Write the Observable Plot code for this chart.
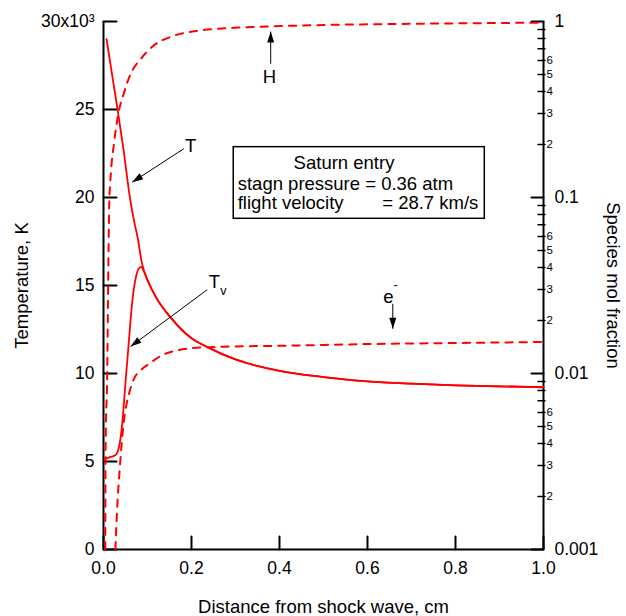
<!DOCTYPE html>
<html><head><meta charset="utf-8">
<script src="https://cdn.jsdelivr.net/npm/d3@7"></script>
<script src="https://cdn.jsdelivr.net/npm/@observablehq/plot@0.6"></script>
<style>
html,body{margin:0;padding:0;background:#fff;}
#chart svg{display:block;}
</style>
</head><body><div id="chart"></div>
<script>
// Translational temperature T (10^3 K) vs distance (cm)
const distT = [0.007, 0.02, 0.032, 0.045, 0.06, 0.07, 0.077, 0.088, 0.1, 0.12, 0.152, 0.2, 0.236, 0.3, 0.4, 0.5, 0.6, 0.7, 0.8, 0.9, 1.0];
const tempT = [29.0, 26.9, 25.0, 22.8, 20.0, 18.6, 17.8, 16.2, 15.3, 14.3, 13.2, 12.0, 11.5, 10.8, 10.15, 9.8, 9.55, 9.42, 9.33, 9.27, 9.22];
// Vibrational temperature Tv
const distTv = [0.004, 0.015, 0.027, 0.035, 0.0424, 0.05, 0.0576, 0.065, 0.073, 0.08, 0.086, 0.092, 0.1, 0.12, 0.152, 0.2, 0.236, 0.3, 0.4, 0.5, 0.6, 0.7, 0.8, 0.9, 1.0];
const tempTv = [5.15, 5.25, 5.35, 5.8, 7.1, 9.5, 11.8, 14.0, 15.4, 15.95, 16.05, 15.8, 15.3, 14.3, 13.2, 12.0, 11.5, 10.8, 10.15, 9.8, 9.55, 9.42, 9.33, 9.27, 9.22];
// H mole fraction
const distH = [0.004, 0.0048, 0.0084, 0.011, 0.013, 0.017, 0.0235, 0.035, 0.046, 0.061, 0.084, 0.114, 0.16, 0.22, 0.296, 0.372, 0.5, 0.7, 1.0];
const fracH = [0.001, 0.004, 0.0099, 0.04, 0.09, 0.14, 0.2, 0.31, 0.39, 0.5, 0.61, 0.73, 0.83, 0.89, 0.92, 0.936, 0.955, 0.97, 0.985];
// electron mole fraction
const distE = [0.027, 0.031, 0.037, 0.046, 0.0576, 0.069, 0.084, 0.107, 0.13, 0.16, 0.198, 0.273, 0.425, 0.6, 0.8, 1.0];
const fracE = [0.001, 0.0017, 0.0029, 0.0053, 0.0076, 0.0093, 0.0104, 0.0115, 0.0126, 0.0134, 0.0139, 0.0142, 0.0144, 0.0147, 0.0149, 0.0151];

const xTicks = [0, 0.2, 0.4, 0.6, 0.8, 1.0];
const xTickLabels = ["0.0", "0.2", "0.4", "0.6", "0.8", "1.0"];
const yTicks = [0, 5, 10, 15, 20, 25, 30];
const yTickLabels = ["0", "5", "10", "15", "20", "25", "30x10³"];
const fracMajor = [0.001, 0.01, 0.1, 1];
const fracMajorLabels = ["0.001", "0.01", "0.1", "1"];
const fracMinor = [0.002,0.003,0.004,0.005,0.006,0.007,0.008,0.009, 0.02,0.03,0.04,0.05,0.06,0.07,0.08,0.09, 0.2,0.3,0.4,0.5,0.6,0.7,0.8,0.9];
const fracMinorLabeled = [0.002,0.003,0.004,0.005,0.006, 0.02,0.03,0.04,0.05,0.06, 0.2,0.3,0.4,0.5,0.6];
const fracMinorLabels = ["2","3","4","5","6","2","3","4","5","6","2","3","4","5","6"];

// annotations (x in cm, y in 10^3 K units)
const arrows = [
  {x1: 0.38, y1: 27.6, x2: 0.38, y2: 29.43},
  {x1: 0.1825, y1: 22.77, x2: 0.0652, y2: 20.87},
  {x1: 0.2357, y1: 14.76, x2: 0.0614, y2: 11.53},
  {x1: 0.6575, y1: 13.96, x2: 0.6575, y2: 12.54}
];
const labelTexts = ["H", "T", "T", "e"];
const labelX = [0.377, 0.198, 0.2523, 0.6477];
const labelY = [26.82, 22.95, 15.2, 14.35];
const smallTexts = ["v", "-"];
const smallX = [0.2725, 0.6636];
const smallY = [14.66, 15.04];
const box = {x1: 0.296, x2: 0.8666, y1: 18.79, y2: 22.86};
const boxTitle = ["Saturn entry"];
const boxTitleX = [0.5466];
const boxTitleY = [21.63];
const boxLines = ["stagn pressure = 0.36 atm", "flight velocity", "= 28.7 km/s"];
const boxX = [0.305, 0.305, 0.6334];
const boxY = [20.44, 19.36, 19.36];

const fy = d3.scaleLog().domain([0.001, 1]).range([0, 30]);
const red = "#ff0000";
const font = "'Liberation Sans', Arial, Helvetica, sans-serif";

const Tdata = distT.map((d, i) => ({x: d, y: tempT[i]}));
const Tvdata = distTv.map((d, i) => ({x: d, y: tempTv[i]}));
const Hdata = distH.map((d, i) => ({x: d, y: fy(fracH[i])}));
const Edata = distE.map((d, i) => ({x: d, y: fy(fracE[i])}));

const majorPos = fracMajor.map(fy);
const majorMap = new Map(majorPos.map((p, i) => [p, fracMajorLabels[i]]));
const minorPos = fracMinor.map(fy);
const minorLabPos = fracMinorLabeled.map(fy);
const minorMap = new Map(minorLabPos.map((p, i) => [p, fracMinorLabels[i]]));
const yMap = new Map(yTicks.map((t, i) => [t, yTickLabels[i]]));
const xMap = new Map(xTicks.map((t, i) => [t, xTickLabels[i]]));

const tickShape = {draw(context, l) { context.moveTo(0, 0); context.lineTo(0, -l); }};

function solidHead(color, context) {
  const ns = "http://www.w3.org/2000/svg";
  const doc = context && context.document ? context.document : document;
  const m = doc.createElementNS(ns, "marker");
  m.setAttribute("viewBox", "-12 -5 12 10");
  m.setAttribute("markerWidth", "12");
  m.setAttribute("markerHeight", "10");
  m.setAttribute("markerUnits", "userSpaceOnUse");
  m.setAttribute("refX", "0");
  m.setAttribute("refY", "0");
  m.setAttribute("orient", "auto");
  const p = doc.createElementNS(ns, "path");
  p.setAttribute("d", "M0,0L-11,-3.5L-11,3.5Z");
  p.setAttribute("fill", "black");
  p.setAttribute("stroke", "none");
  m.appendChild(p);
  return m;
}

const chart = Plot.plot({
  width: 626,
  height: 616,
  marginLeft: 103,
  marginRight: 83,
  marginTop: 21,
  marginBottom: 67,
  style: {fontFamily: font, background: "white", color: "black"},
  x: {domain: [0, 1]},
  y: {domain: [0, 30]},
  marks: [
    // frame
    Plot.ruleX([0, 1], {stroke: "black", strokeWidth: 2}),
    Plot.ruleY([0], {stroke: "black", strokeWidth: 2}),
    // inward ticks
    Plot.vector(xTicks, {x: d => d, y: d => 0, length: 13, rotate: 0, anchor: "start", shape: tickShape, stroke: "black", strokeWidth: 2}),
    Plot.vector(yTicks, {x: d => 0, y: d => d, length: 13, rotate: 90, anchor: "start", shape: tickShape, stroke: "black", strokeWidth: 2}),
    Plot.vector(majorPos, {x: d => 1, y: d => d, length: 12, rotate: -90, anchor: "start", shape: tickShape, stroke: "black", strokeWidth: 2}),
    Plot.vector(minorPos, {x: d => 1, y: d => d, dx: 1.5, length: 7, rotate: -90, anchor: "start", shape: tickShape, stroke: "black", strokeWidth: 1.5}),
    // tick labels
    Plot.axisX(xTicks, {anchor: "bottom", tickSize: 0, tickPadding: 12, tickFormat: d => xMap.get(d), fontSize: 17.5, label: null}),
    Plot.axisY(yTicks, {anchor: "left", tickSize: 0, tickPadding: 9, tickFormat: d => yMap.get(d), fontSize: 17.5, label: null}),
    Plot.axisY(majorPos, {anchor: "right", tickSize: 0, tickPadding: 11, tickFormat: d => majorMap.get(d), fontSize: 17.5, label: null}),
    Plot.axisY(minorLabPos, {anchor: "right", tickSize: 0, tickPadding: 3, tickFormat: d => minorMap.get(d), fontSize: 11.5, label: null}),
    // curves
    Plot.line(Hdata, {x: "x", y: "y", stroke: red, strokeWidth: 2, strokeDasharray: "7.3,6.9", curve: "monotone-x"}),
    Plot.line(Edata, {x: "x", y: "y", stroke: red, strokeWidth: 2, strokeDasharray: "7.3,6.9", curve: "monotone-x"}),
    Plot.line(Tvdata, {x: "x", y: "y", stroke: red, strokeWidth: 1.8, curve: "monotone-x"}),
    Plot.line(Tdata, {x: "x", y: "y", stroke: red, strokeWidth: 1.8, curve: "monotone-x"}),
    // annotations
    Plot.link(arrows, {x1: "x1", y1: "y1", x2: "x2", y2: "y2", stroke: "black", strokeWidth: 1, markerEnd: solidHead}),
    Plot.text(labelTexts, {x: (d, i) => labelX[i], y: (d, i) => labelY[i], text: d => d, fontSize: 18.5, fill: "black"}),
    Plot.text(smallTexts, {x: (d, i) => smallX[i], y: (d, i) => smallY[i], text: d => d, fontSize: 12.5, fill: "black"}),
    Plot.rect([box], {x1: "x1", x2: "x2", y1: "y1", y2: "y2", fill: "white", stroke: "black", strokeWidth: 1.5}),
    Plot.text(boxTitle, {x: (d, i) => boxTitleX[i], y: (d, i) => boxTitleY[i], text: d => d, textAnchor: "middle", lineAnchor: "bottom", fontSize: 18.5, fill: "black"}),
    Plot.text(boxLines, {x: (d, i) => boxX[i], y: (d, i) => boxY[i], text: d => d, textAnchor: "start", lineAnchor: "bottom", fontSize: 18.5, fill: "black"}),
    // axis titles
    Plot.text(["Distance from shock wave, cm"], {frameAnchor: "bottom", dy: 63, textAnchor: "middle", lineAnchor: "bottom", text: d => d, fontSize: 18.5, fill: "black"}),
    Plot.text(["Temperature, K"], {frameAnchor: "left", dx: -81, rotate: -90, textAnchor: "middle", lineAnchor: "middle", text: d => d, fontSize: 18.5, fill: "black"}),
    Plot.text(["Species mol fraction"], {frameAnchor: "right", dx: 69, rotate: 90, textAnchor: "middle", lineAnchor: "middle", text: d => d, fontSize: 18.5, fill: "black"})
  ]
});
document.getElementById("chart").appendChild(chart);
</script>
</body></html>
